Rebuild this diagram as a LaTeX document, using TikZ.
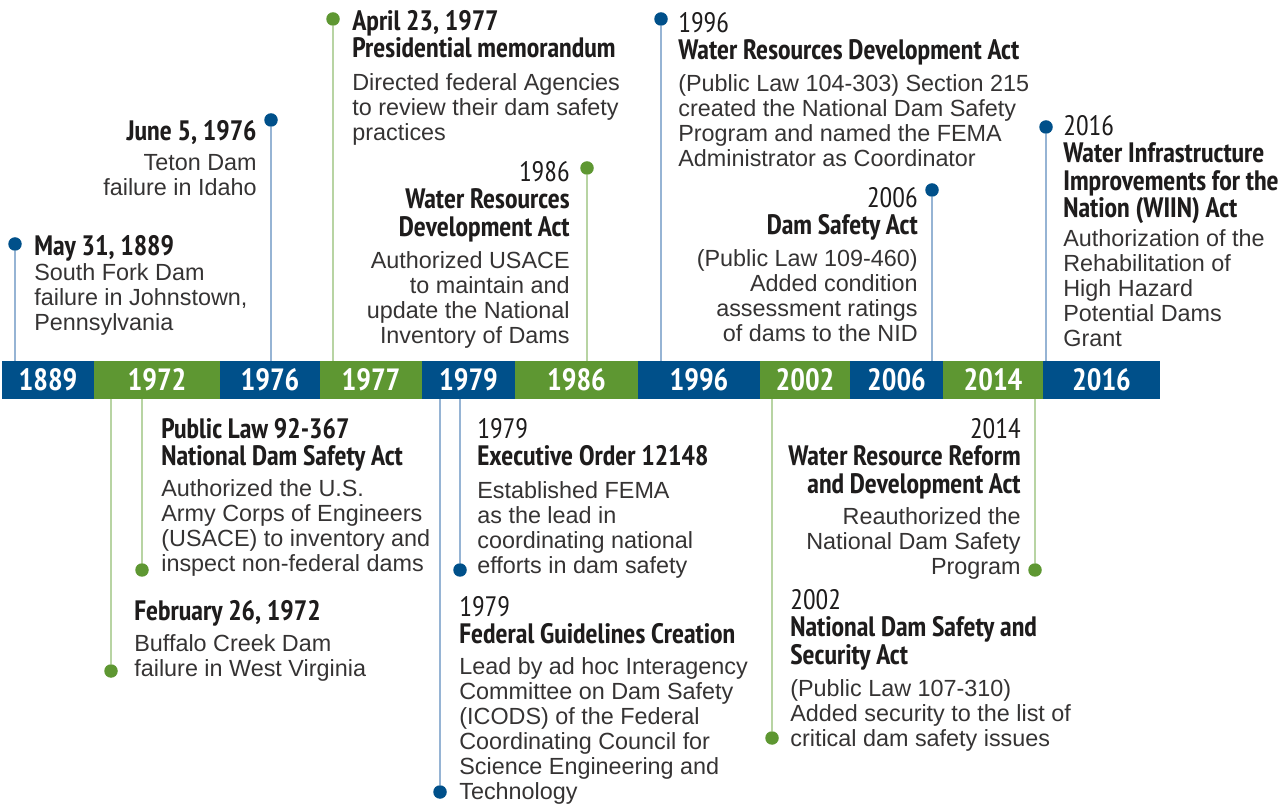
\documentclass[tikz,border=0pt]{standalone}
\usepackage{fontspec}
\setmainfont{Liberation Sans}
\newfontfamily\narrow{PT Sans Narrow}
\usepackage{tikz}
\usetikzlibrary{positioning}
\definecolor{damblue}{RGB}{0,80,138}
\definecolor{damgreen}{RGB}{94,151,50}
\definecolor{stemblue}{RGB}{150,180,212}
\definecolor{stemgreen}{RGB}{184,212,163}
\definecolor{ink}{RGB}{30,28,28}
\newcommand{\yr}[1]{{\mdseries #1}}

\tikzset{
  seg/.style={inner sep=0pt, outer sep=0pt, minimum height=7.6mm, text=white, font=\narrow\bfseries\fontsize{17.5}{17.5}\selectfont},
  head/.style={inner sep=0pt, text=ink, font=\narrow\bfseries\fontsize{16}{15.6}\selectfont},
  body/.style={inner sep=0pt, text=ink!90, font=\fontsize{13.3}{14.2}\selectfont},
  dotb/.style={circle, fill=damblue, inner sep=0pt, minimum size=2.7mm},
  dotg/.style={circle, fill=damgreen, inner sep=0pt, minimum size=2.7mm},
  stemb/.style={draw=stemblue, line width=0.9pt},
  stemg/.style={draw=stemgreen, line width=0.9pt}
}

\begin{document}
\begin{tikzpicture}[x=0.2mm, y=-0.2mm]
        \useasboundingbox (0,0) rectangle (1286,804);
        % the bar
        \node[seg, fill=damblue, minimum width=18.4mm, anchor=west] (s1889) at (2,380) {1889};
        \node[seg, fill=damgreen, minimum width=25.2mm, right=0pt of s1889] (s1972) {1972};
        \node[seg, fill=damblue, minimum width=20mm, right=0pt of s1972] (s1976) {1976};
        \node[seg, fill=damgreen, minimum width=20.4mm, right=0pt of s1976] (s1977) {1977};
        \node[seg, fill=damblue, minimum width=18.6mm, right=0pt of s1977] (s1979) {1979};
        \node[seg, fill=damgreen, minimum width=24.6mm, right=0pt of s1979] (s1986) {1986};
        \node[seg, fill=damblue, minimum width=24.4mm, right=0pt of s1986] (s1996) {1996};
        \node[seg, fill=damgreen, minimum width=18mm, right=0pt of s1996] (s2002) {2002};
        \node[seg, fill=damblue, minimum width=18.6mm, right=0pt of s2002] (s2006) {2006};
        \node[seg, fill=damgreen, minimum width=20mm, right=0pt of s2006] (s2014) {2014};
        \node[seg, fill=damblue, minimum width=23.4mm, right=0pt of s2014] (s2016) {2016};

        % above the bar
        \node[dotb] (d1889) at (15,244) {};
        \node[head, anchor=north west] (h1889) at (34,235) {May 31, 1889};
        \node[body, anchor=north west, align=left] (t1889) at (34,263) {South Fork Dam\\failure in Johnstown,\\Pennsylvania};

        \node[dotb] (d1976) at (271,120) {};
        \node[head, anchor=north east] (h1976) at (257,120) {June 5, 1976};
        \node[body, anchor=north east, align=right] (t1976) at (257,154) {Teton Dam\\failure in Idaho};

        \node[dotg] (d1977) at (333,19) {};
        \node[head, anchor=north west, align=left] (h1977) at (352,10) {April 23, 1977\\Presidential memorandum};
        \node[body, anchor=north west, align=left] (t1977) at (352,73) {Directed federal Agencies\\to review their dam safety\\practices};

        \node[dotg] (d1986) at (587,168) {};
        \node[head, anchor=north east, align=right] (h1986) at (570,161) {\yr{1986}\\Water Resources\\Development Act};
        \node[body, anchor=north east, align=right] (t1986) at (570,251) {Authorized USACE\\to maintain and\\update the National\\Inventory of Dams};

        \node[dotb] (d1996) at (661,19) {};
        \node[head, anchor=north west, align=left] (h1996) at (678,12) {\yr{1996}\\Water Resources Development Act};
        \node[body, anchor=north west, align=left] (t1996) at (678,74) {(Public Law 104-303) Section 215\\created the National Dam Safety\\Program and named the FEMA\\Administrator as Coordinator};

        \node[dotb] (d2006) at (932,190) {};
        \node[head, anchor=north east, align=right] (h2006) at (918,187) {\yr{2006}\\Dam Safety Act};
        \node[body, anchor=north east, align=right] (t2006) at (918,249) {(Public Law 109-460)\\Added condition\\assessment ratings\\of dams to the NID};

        \node[dotb] (d2016) at (1046,127) {};
        \node[head, anchor=north west, align=left] (h2016) at (1063,115) {\yr{2016}\\Water Infrastructure\\Improvements for the\\Nation (WIIN) Act};
        \node[body, anchor=north west, align=left] (t2016) at (1063,229) {Authorization of the\\Rehabilitation of\\High Hazard\\Potential Dams\\Grant};

        % below the bar
        \node[dotg] (d1972b) at (142,570) {};
        \node[head, anchor=north west, align=left] (h1972b) at (161,418) {Public Law 92-367\\National Dam Safety Act};
        \node[body, anchor=north west, align=left] (t1972b) at (161,479) {Authorized the U.S.\\Army Corps of Engineers\\(USACE) to inventory and\\inspect non-federal dams};

        \node[dotg] (d1972a) at (111,671) {};
        \node[head, anchor=north west] (h1972a) at (134,600) {February 26, 1972};
        \node[body, anchor=north west, align=left] (t1972a) at (134,634) {Buffalo Creek Dam\\failure in West Virginia};

        \node[dotb] (d1979b) at (460,570) {};
        \node[head, anchor=north west, align=left] (h1979b) at (477,418) {\yr{1979}\\Executive Order 12148};
        \node[body, anchor=north west, align=left] (t1979b) at (477,481) {Established FEMA\\as the lead in\\coordinating national\\efforts in dam safety};

        \node[dotb] (d1979a) at (440,792) {};
        \node[head, anchor=north west, align=left] (h1979a) at (459,596) {\yr{1979}\\Federal Guidelines Creation};
        \node[body, anchor=north west, align=left] (t1979a) at (459,657) {Lead by ad hoc Interagency\\Committee on Dam Safety\\(ICODS) of the Federal\\Coordinating Council for\\Science Engineering and\\Technology};

        \node[dotg] (d2002) at (772,738) {};
        \node[head, anchor=north west, align=left] (h2002) at (790,589) {\yr{2002}\\National Dam Safety and\\Security Act};
        \node[body, anchor=north west, align=left] (t2002) at (790,679) {(Public Law 107-310)\\Added security to the list of\\critical dam safety issues};

        \node[dotg] (d2014) at (1035,570) {};
        \node[head, anchor=north east, align=right] (h2014) at (1021,418) {\yr{2014}\\Water Resource Reform\\and Development Act};
        \node[body, anchor=north east, align=right] (t2014) at (1021,507) {Reauthorized the\\National Dam Safety\\Program};

        % stems
        \draw[stemb] (d1889.south) -- (d1889 |- s1889.north);
        \draw[stemb] (d1976.south) -- (d1976 |- s1976.north);
        \draw[stemg] (d1977.south) -- (d1977 |- s1977.north);
        \draw[stemg] (d1986.south) -- (d1986 |- s1986.north);
        \draw[stemb] (d1996.south) -- (d1996 |- s1996.north);
        \draw[stemb] (d2006.south) -- (d2006 |- s2006.north);
        \draw[stemb] (d2016.south) -- (d2016 |- s2016.north);
        \draw[stemg] (d1972a |- s1972.south) -- (d1972a.north);
        \draw[stemg] (d1972b |- s1972.south) -- (d1972b.north);
        \draw[stemb] (d1979a |- s1979.south) -- (d1979a.north);
        \draw[stemb] (d1979b |- s1979.south) -- (d1979b.north);
        \draw[stemg] (d2002 |- s2002.south) -- (d2002.north);
        \draw[stemg] (d2014 |- s2014.south) -- (d2014.north);
\end{tikzpicture}
\end{document}
